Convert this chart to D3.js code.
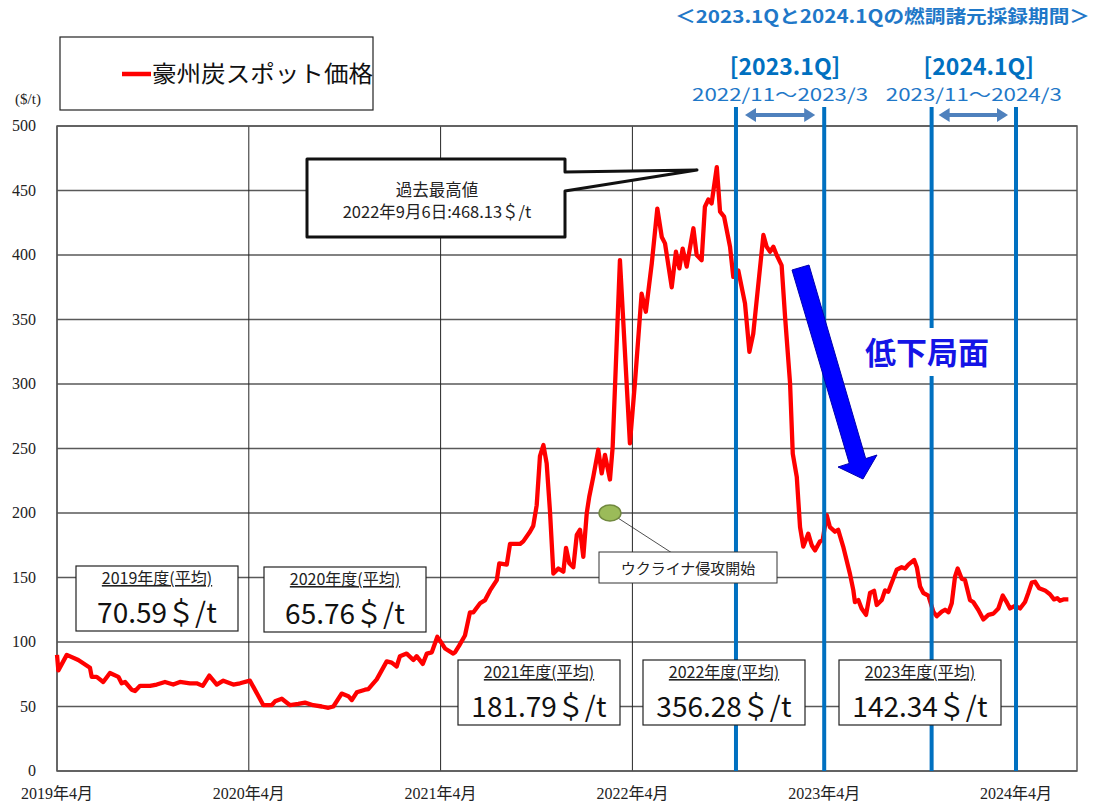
<!DOCTYPE html>
<html>
<head>
<meta charset="utf-8">
<script src="https://cdn.jsdelivr.net/npm/d3@7"></script>
<style>
  body { margin: 0; background: #fff; }
  text { font-family: "Noto Sans CJK JP", "Noto Sans", sans-serif; }
  text.serif { font-family: "Liberation Serif", "DejaVu Serif", "Noto Sans CJK JP", serif; }
</style>
</head>
<body>
<svg id="svgChart" width="1094" height="805"></svg>
<script>
// time as decimal years (2019.25 = 2019年4月), price in $/t
var timeYears = [
  2019.250, 2019.257, 2019.301, 2019.361, 2019.422, 2019.431, 2019.457, 2019.491, 2019.526, 2019.570,
  2019.587, 2019.605, 2019.639, 2019.657, 2019.683, 2019.718, 2019.735, 2019.770, 2019.813, 2019.856,
  2019.891, 2019.943, 2019.978, 2020.010, 2020.044, 2020.083, 2020.117, 2020.169, 2020.204, 2020.256,
  2020.326, 2020.369, 2020.387, 2020.422, 2020.465, 2020.508, 2020.543, 2020.586, 2020.630, 2020.665,
  2020.691, 2020.734, 2020.769, 2020.787, 2020.813, 2020.856, 2020.873, 2020.917, 2020.969, 2020.995,
  2021.021, 2021.038, 2021.073, 2021.108, 2021.125, 2021.157, 2021.178, 2021.204, 2021.233, 2021.256,
  2021.273, 2021.316, 2021.325, 2021.346, 2021.377, 2021.403, 2021.421, 2021.456, 2021.482, 2021.508,
  2021.543, 2021.556, 2021.595, 2021.612, 2021.664, 2021.681, 2021.716, 2021.733, 2021.751, 2021.768,
  2021.786, 2021.803, 2021.820, 2021.838, 2021.864, 2021.890, 2021.904, 2021.921, 2021.942, 2021.960,
  2021.977, 2021.994, 2022.012, 2022.025, 2022.046, 2022.072, 2022.090, 2022.107, 2022.133, 2022.147,
  2022.185, 2022.237, 2022.263, 2022.298, 2022.320, 2022.351, 2022.380, 2022.403, 2022.420, 2022.455,
  2022.477, 2022.495, 2022.512, 2022.533, 2022.568, 2022.585, 2022.611, 2022.628, 2022.646, 2022.663,
  2022.690, 2022.707, 2022.728, 2022.759, 2022.776, 2022.802, 2022.837, 2022.860, 2022.880, 2022.898,
  2022.933, 2022.950, 2022.968, 2022.985, 2023.002, 2023.028, 2023.046, 2023.072, 2023.086, 2023.107,
  2023.124, 2023.141, 2023.167, 2023.185, 2023.202, 2023.228, 2023.242, 2023.263, 2023.280, 2023.306,
  2023.323, 2023.349, 2023.384, 2023.402, 2023.410, 2023.428, 2023.445, 2023.468, 2023.489, 2023.510,
  2023.524, 2023.550, 2023.567, 2023.584, 2023.610, 2023.628, 2023.654, 2023.672, 2023.689, 2023.719,
  2023.733, 2023.750, 2023.767, 2023.793, 2023.819, 2023.837, 2023.863, 2023.880, 2023.898, 2023.915,
  2023.932, 2023.946, 2023.967, 2023.984, 2024.010, 2024.027, 2024.053, 2024.080, 2024.106, 2024.132,
  2024.158, 2024.181, 2024.203, 2024.219, 2024.245, 2024.271, 2024.297, 2024.314, 2024.332, 2024.349,
  2024.371, 2024.401, 2024.427, 2024.448, 2024.465, 2024.479, 2024.497, 2024.523
];
var priceUSD = [
  90, 78, 90, 86, 80, 73, 73, 69, 76, 73,
  68, 69, 63, 62, 66, 66, 66, 67, 69, 67,
  69, 68, 68, 66, 74, 67, 70, 67, 68, 70,
  51, 51, 54, 56, 51, 52, 53, 51, 50, 49,
  50, 60, 58, 55, 61, 63, 63.5, 71, 85, 84,
  81, 89, 91, 86, 89, 83, 91, 92, 104, 99,
  95, 91, 92, 97, 105, 123, 123, 130, 132.5, 140,
  148, 161, 160, 176, 176, 178, 185.5, 190, 206, 244,
  252.7, 238.5, 202, 153, 157, 154.5, 173, 161, 158, 183,
  187, 166, 200, 212.6, 228, 249, 230.7, 245, 226, 251,
  396, 254, 300.5, 370, 356, 393.5, 436, 414, 409, 375,
  402.6, 389.7, 405, 391, 420.7, 400, 396, 437.4, 443, 440,
  468.13, 433.6, 429.7, 406.4, 383, 388, 362.5, 325, 339, 365,
  415.5, 406.4, 402.6, 406.4, 400, 392, 352, 300.5, 246, 228,
  189, 174, 184, 175, 171, 178, 179, 198.4, 189, 185.5,
  187, 174, 153, 140, 131, 132.5, 126, 121, 138, 139.7,
  128.7, 132.5, 140, 139, 149, 156, 158, 157, 160, 163.6,
  158, 143, 138, 136, 123.5, 120, 123.5, 125, 123, 130,
  150.6, 157, 149, 148, 132.5, 131, 125, 117.5, 121, 122,
  126, 136, 130.5, 126, 128, 126, 131, 138, 146, 146.7,
  141.6, 140, 137, 133, 134, 132, 133, 133
];

var yTicks = [0, 50, 100, 150, 200, 250, 300, 350, 400, 450, 500];
var xTickYears = [2019.25, 2020.25, 2021.25, 2022.25, 2023.25, 2024.25];
var xTickLabels = ["2019年4月", "2020年4月", "2021年4月", "2022年4月", "2023年4月", "2024年4月"];

// 燃調諸元採録期間の区切り線
var periodLines = [2022.79, 2023.25, 2023.81, 2024.25];
var periodNames = ["[2023.1Q]", "[2024.1Q]"];
var periodRanges = ["2022/11～2023/3", "2023/11～2024/3"];

// 年度平均
var fiscalNames = ["2019年度(平均)", "2020年度(平均)", "2021年度(平均)", "2022年度(平均)", "2023年度(平均)"];
var fiscalAvg = ["70.59", "65.76", "181.79", "356.28", "142.34"];

var svg = d3.select("#svgChart");
var margin = {top: 126, right: 17, bottom: 34, left: 57};
var width = +svg.attr("width") - margin.left - margin.right;
var height = +svg.attr("height") - margin.top - margin.bottom;

var x = d3.scaleLinear().domain([2019.25, 2024.568]).range([margin.left, margin.left + width]);
var y = d3.scaleLinear().domain([0, 500]).range([margin.top + height, margin.top]);

// horizontal grid
svg.append("g").selectAll("line").data(yTicks).enter().append("line")
  .attr("x1", margin.left).attr("x2", margin.left + width)
  .attr("y1", function(d) { return y(d); }).attr("y2", function(d) { return y(d); })
  .attr("stroke", "#595959").attr("stroke-width", 1.3);

// vertical grid (yearly)
svg.append("g").selectAll("line").data(xTickYears).enter().append("line")
  .attr("x1", function(d) { return x(d); }).attr("x2", function(d) { return x(d); })
  .attr("y1", margin.top).attr("y2", margin.top + height)
  .attr("stroke", "#262626").attr("stroke-width", 1);

// plot frame
svg.append("rect")
  .attr("x", margin.left).attr("y", margin.top)
  .attr("width", width).attr("height", height)
  .attr("fill", "none").attr("stroke", "#595959").attr("stroke-width", 1.5);

// y labels
svg.append("g").selectAll("text").data(yTicks).enter().append("text")
  .attr("class", "serif")
  .attr("x", 36).attr("y", function(d) { return y(d) + 5; })
  .attr("text-anchor", "end").attr("font-size", 16).attr("fill", "#222")
  .text(function(d) { return d; });

svg.append("text").attr("class", "serif")
  .attr("x", 28).attr("y", 104).attr("text-anchor", "middle")
  .attr("font-size", 15).attr("fill", "#222").text("($/t)");

// x labels
svg.append("g").selectAll("text").data(xTickYears).enter().append("text")
  .attr("class", "serif")
  .attr("x", function(d) { return x(d); }).attr("y", 799)
  .attr("text-anchor", "middle").attr("font-size", 16).attr("fill", "#222")
  .text(function(d, i) { return xTickLabels[i]; });

// price line
var valueline = d3.line()
  .x(function(d, i) { return x(timeYears[i]); })
  .y(function(d) { return y(d); });

svg.append("path")
  .attr("d", valueline(priceUSD))
  .attr("fill", "none").attr("stroke", "#ff0000")
  .attr("stroke-width", 4.3).attr("stroke-linejoin", "round");

// period lines
svg.append("g").selectAll("line").data(periodLines).enter().append("line")
  .attr("x1", function(d) { return x(d); }).attr("x2", function(d) { return x(d); })
  .attr("y1", 107).attr("y2", margin.top + height)
  .attr("stroke", "#0070c0").attr("stroke-width", 4);

// double arrows between period lines
function dblArrow(x1, x2, yy) {
  var g = svg.append("g").attr("fill", "#4f81bd");
  g.append("rect").attr("x", x1 + 8).attr("y", yy - 2).attr("width", x2 - x1 - 16).attr("height", 4);
  g.append("path").attr("d", "M" + x1 + "," + yy + "L" + (x1 + 11) + "," + (yy - 7) + "L" + (x1 + 11) + "," + (yy + 7) + "Z");
  g.append("path").attr("d", "M" + x2 + "," + yy + "L" + (x2 - 11) + "," + (yy - 7) + "L" + (x2 - 11) + "," + (yy + 7) + "Z");
}
dblArrow(x(periodLines[0]) + 9, x(periodLines[1]) - 9, 115);
dblArrow(x(periodLines[2]) + 7, x(periodLines[3]) - 8, 115);

// period titles
[0, 1].forEach(function(i) {
  var cx = (x(periodLines[i * 2]) + x(periodLines[i * 2 + 1])) / 2 + 5;
  svg.append("text").attr("x", cx).attr("y", 75)
    .attr("text-anchor", "middle").attr("font-size", 23).attr("font-weight", "bold")
    .attr("fill", "#0070c0").text(periodNames[i]);
  svg.append("text").attr("x", cx - 5).attr("y", 101)
    .attr("text-anchor", "middle").attr("font-size", 17)
    .attr("textLength", 176).attr("lengthAdjust", "spacingAndGlyphs")
    .attr("fill", "#1f78c8").text(periodRanges[i]);
});

svg.append("text").attr("x", 675).attr("y", 23)
  .attr("font-size", 18).attr("font-weight", "bold")
  .attr("textLength", 415).attr("lengthAdjust", "spacingAndGlyphs")
  .attr("fill", "#1f78c8").text("＜2023.1Qと2024.1Qの燃調諸元採録期間＞");

// legend
svg.append("rect").attr("x", 60).attr("y", 37).attr("width", 313).attr("height", 73)
  .attr("fill", "#fff").attr("stroke", "#222").attr("stroke-width", 1.2);
svg.append("line").attr("x1", 122).attr("x2", 151).attr("y1", 74).attr("y2", 74)
  .attr("stroke", "#ff0000").attr("stroke-width", 4.5);
svg.append("text").attr("x", 152).attr("y", 82)
  .attr("font-size", 23).attr("textLength", 221).attr("lengthAdjust", "spacingAndGlyphs")
  .attr("fill", "#111").text("豪州炭スポット価格");

// peak callout
svg.append("path")
  .attr("d", "M307,159L565,159L565,172L697,170L565,191L565,237L307,237Z")
  .attr("fill", "#fff").attr("stroke", "#111").attr("stroke-width", 3)
  .attr("stroke-linejoin", "round");
svg.append("text").attr("x", 437).attr("y", 196).attr("text-anchor", "middle")
  .attr("font-size", 16.5).attr("fill", "#222").text("過去最高値");
svg.append("text").attr("x", 437).attr("y", 218).attr("text-anchor", "middle")
  .attr("font-size", 16.5).attr("fill", "#222").text("2022年9月6日:468.13＄/t");

// fiscal-year average boxes
var boxPos = [[76, 566], [264, 567], [458, 660], [643, 660], [839, 660]];
fiscalNames.forEach(function(name, i) {
  var bx = boxPos[i][0], by = boxPos[i][1];
  svg.append("rect").attr("x", bx).attr("y", by).attr("width", 162).attr("height", 65)
    .attr("fill", "#fff").attr("stroke", "#222").attr("stroke-width", 1.2);
  svg.append("text").attr("x", bx + 81).attr("y", by + 18).attr("text-anchor", "middle")
    .attr("font-size", 16).attr("fill", "#222")
    .attr("text-decoration", "underline").text(name);
  svg.append("text").attr("x", bx + 81).attr("y", by + 57).attr("text-anchor", "middle")
    .attr("font-size", 28).attr("fill", "#111").text(fiscalAvg[i] + "＄/t");
});

// Ukraine marker
var ux = x(2022.133), uy = y(200);
svg.append("line").attr("x1", ux + 8).attr("y1", uy + 5).attr("x2", 672).attr("y2", 553)
  .attr("stroke", "#222").attr("stroke-width", 0.8);
svg.append("ellipse").attr("cx", ux).attr("cy", uy).attr("rx", 11).attr("ry", 8)
  .attr("fill", "#9bbb59").attr("stroke", "#71893f").attr("stroke-width", 1.5);
svg.append("rect").attr("x", 599).attr("y", 552).attr("width", 178).attr("height", 31)
  .attr("fill", "#fff").attr("stroke", "#333").attr("stroke-width", 1);
svg.append("text").attr("x", 688).attr("y", 574).attr("text-anchor", "middle")
  .attr("font-size", 15).attr("fill", "#222").text("ウクライナ侵攻開始");

// decline arrow
svg.append("path")
  .attr("d", "M792,270L809,265L865.7,458.6L877,455L863,479L838,467L849.3,463.4Z")
  .attr("fill", "#0000ff").attr("stroke", "#0000b0").attr("stroke-width", 1);

svg.append("rect").attr("x", 862).attr("y", 328).attr("width", 128).attr("height", 48)
  .attr("fill", "#fff");
svg.append("text").attr("x", 927).attr("y", 364).attr("text-anchor", "middle")
  .attr("font-size", 31).attr("font-weight", "bold").attr("fill", "#1414e6")
  .text("低下局面");
</script>
</body>
</html>
